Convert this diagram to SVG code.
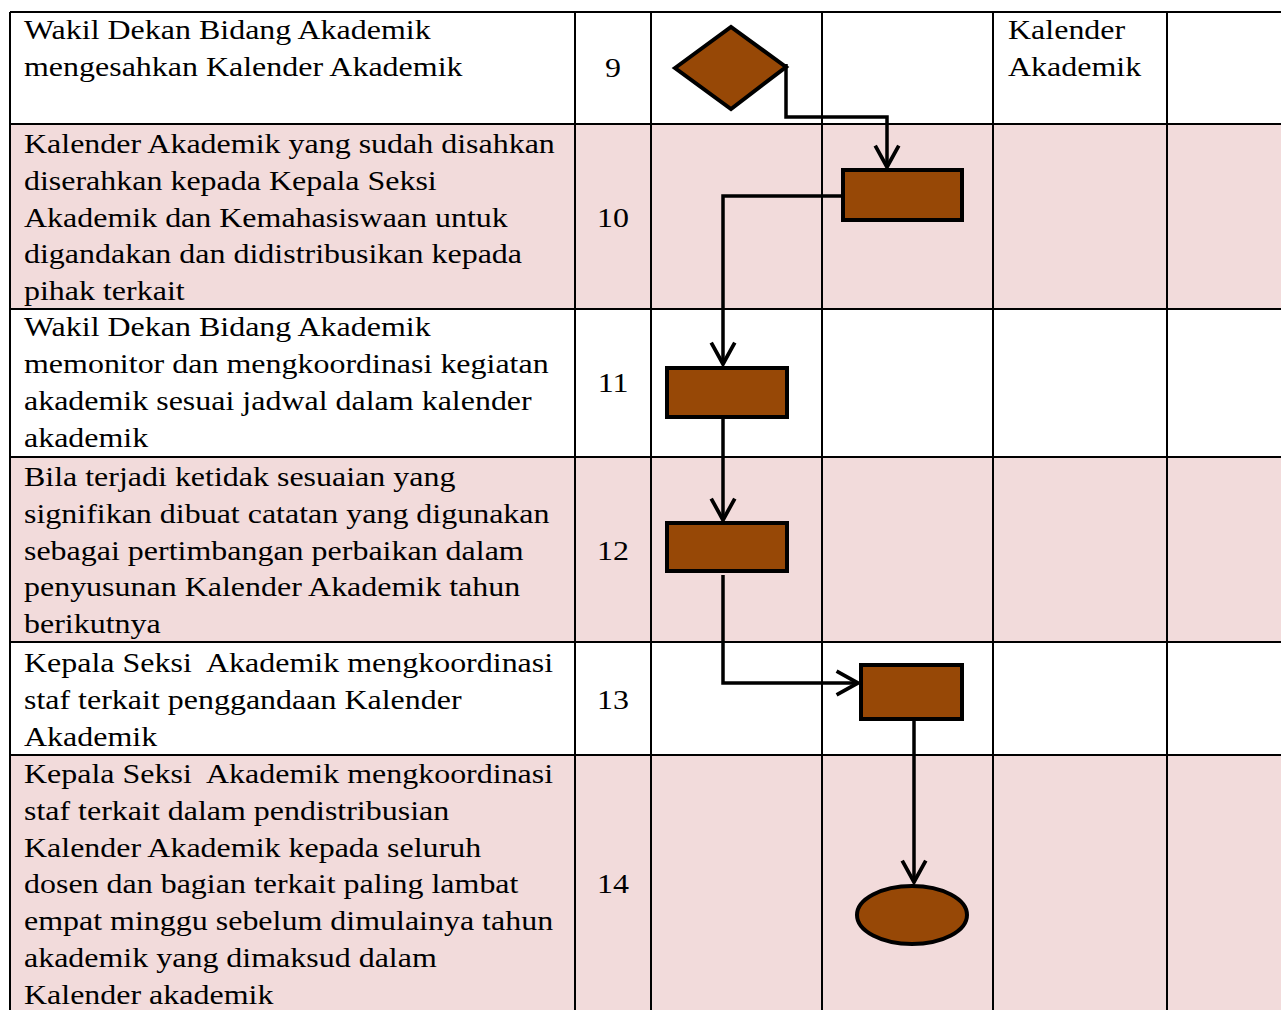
<svg xmlns="http://www.w3.org/2000/svg" width="1281" height="1010" viewBox="0 0 1281 1010">
  <style>
    .pink { fill: #F2DBDB; }
    .grid { stroke: #000; stroke-width: 2; fill: none; }
    .shape { fill: #974806; stroke: #000; stroke-width: 4; }
    .conn { fill: none; stroke: #000; stroke-width: 3.5; }
    .t { font-family: "Liberation Serif", "Times New Roman", serif; font-size: 28px; fill: #000; }
    .num { text-anchor: middle; }
  </style>
  <defs>
    <marker id="arrow" markerUnits="userSpaceOnUse" markerWidth="30" markerHeight="30" viewBox="-24 -14 28 28" refX="0" refY="0" orient="auto">
      <path d="M-20,-11 L0,0 L-20,11" fill="none" stroke="#000" stroke-width="3.5"/>
    </marker>
  </defs>
  <rect width="1281" height="1010" fill="#fff"/>
  <g id="background">
    <rect class="pink" x="10" y="124" width="1271" height="185"/>
    <rect class="pink" x="10" y="457" width="1271" height="185"/>
    <rect class="pink" x="10" y="755" width="1271" height="255"/>
  </g>
  <g id="grid">
    <path class="grid" d="M10,12 H1281 M10,124 H1281 M10,309 H1281 M10,457 H1281 M10,642 H1281 M10,755 H1281"/>
    <path class="grid" d="M10,12 V1010 M575,12 V1010 M651,12 V1010 M822,12 V1010 M993,12 V1010 M1167,12 V1010"/>
  </g>
  <g id="texts" transform="scale(1.142 1)">
    <g id="row9-text">
      <text class="t" x="21" y="39">Wakil Dekan Bidang Akademik</text>
      <text class="t" x="21" y="76">mengesahkan Kalender Akademik</text>
      <text class="t num" x="536.8" y="77">9</text>
      <text class="t" x="882.7" y="39">Kalender</text>
      <text class="t" x="882.7" y="76">Akademik</text>
    </g>
    <g id="row10-text">
      <text class="t" x="21" y="153">Kalender Akademik yang sudah disahkan</text>
      <text class="t" x="21" y="189.8">diserahkan kepada Kepala Seksi</text>
      <text class="t" x="21" y="226.6">Akademik dan Kemahasiswaan untuk</text>
      <text class="t" x="21" y="263.4">digandakan dan didistribusikan kepada</text>
      <text class="t" x="21" y="300.2">pihak terkait</text>
      <text class="t num" x="536.8" y="226.6">10</text>
    </g>
    <g id="row11-text">
      <text class="t" x="21" y="336.5">Wakil Dekan Bidang Akademik</text>
      <text class="t" x="21" y="373.3">memonitor dan mengkoordinasi kegiatan</text>
      <text class="t" x="21" y="410.1">akademik sesuai jadwal dalam kalender</text>
      <text class="t" x="21" y="446.9">akademik</text>
      <text class="t num" x="536.8" y="392.5">11</text>
    </g>
    <g id="row12-text">
      <text class="t" x="21" y="486">Bila terjadi ketidak sesuaian yang</text>
      <text class="t" x="21" y="522.8">signifikan dibuat catatan yang digunakan</text>
      <text class="t" x="21" y="559.6">sebagai pertimbangan perbaikan dalam</text>
      <text class="t" x="21" y="596.4">penyusunan Kalender Akademik tahun</text>
      <text class="t" x="21" y="633.2">berikutnya</text>
      <text class="t num" x="536.8" y="559.6">12</text>
    </g>
    <g id="row13-text">
      <text class="t" x="21" y="672" xml:space="preserve">Kepala Seksi  Akademik mengkoordinasi</text>
      <text class="t" x="21" y="708.8">staf terkait penggandaan Kalender</text>
      <text class="t" x="21" y="745.6">Akademik</text>
      <text class="t num" x="536.8" y="708.8">13</text>
    </g>
    <g id="row14-text">
      <text class="t" x="21" y="783" xml:space="preserve">Kepala Seksi  Akademik mengkoordinasi</text>
      <text class="t" x="21" y="819.8">staf terkait dalam pendistribusian</text>
      <text class="t" x="21" y="856.6">Kalender Akademik kepada seluruh</text>
      <text class="t" x="21" y="893.4">dosen dan bagian terkait paling lambat</text>
      <text class="t" x="21" y="930.2">empat minggu sebelum dimulainya tahun</text>
      <text class="t" x="21" y="967">akademik yang dimaksud dalam</text>
      <text class="t" x="21" y="1003.8">Kalender akademik</text>
      <text class="t num" x="536.8" y="893.4">14</text>
    </g>
  </g>
  <g id="connectors">
    <path class="conn" d="M786,64 V117 H887 V167" marker-end="url(#arrow)"/>
    <path class="conn" d="M843,196 H723 V364" marker-end="url(#arrow)"/>
    <path class="conn" d="M723,417 V520" marker-end="url(#arrow)"/>
    <path class="conn" d="M723,575 V683 H858" marker-end="url(#arrow)"/>
    <path class="conn" d="M914,720 V882" marker-end="url(#arrow)"/>
  </g>
  <g id="node-9"><polygon class="shape" points="675,68 731,27 786,67 731,109"/></g>
  <g id="node-10"><rect class="shape" x="843" y="170" width="119" height="50"/></g>
  <g id="node-11"><rect class="shape" x="667" y="368" width="120" height="49"/></g>
  <g id="node-12"><rect class="shape" x="667" y="523" width="120" height="48"/></g>
  <g id="node-13"><rect class="shape" x="861" y="665" width="101" height="54"/></g>
  <g id="node-14"><ellipse class="shape" cx="912" cy="915" rx="55" ry="29"/></g>
</svg>
